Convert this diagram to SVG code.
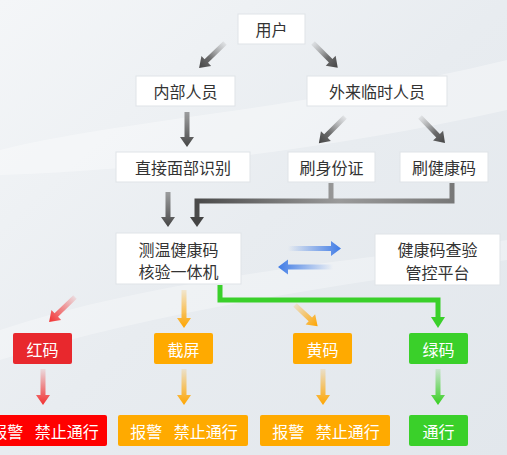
<svg xmlns="http://www.w3.org/2000/svg" width="507" height="455" viewBox="0 0 507 455">
<defs>
<linearGradient id="bg" x1="0" y1="0" x2="1" y2="1">
<stop offset="0" stop-color="#f4f6f8"/><stop offset="0.5" stop-color="#e8ecf0"/><stop offset="1" stop-color="#e2e7ec"/>
</linearGradient>
<linearGradient id="gDark" x1="0" y1="0" x2="0" y2="1">
<stop offset="0" stop-color="#8a8a8a" stop-opacity="0.15"/><stop offset="0.6" stop-color="#555" stop-opacity="0.85"/><stop offset="1" stop-color="#444"/>
</linearGradient>
<linearGradient id="gDark2" x1="0" y1="0" x2="0" y2="1">
<stop offset="0" stop-color="#666" stop-opacity="0.6"/><stop offset="1" stop-color="#444"/>
</linearGradient>
<linearGradient id="gRed" x1="0" y1="0" x2="0" y2="1">
<stop offset="0" stop-color="#f23030" stop-opacity="0.1"/><stop offset="1" stop-color="#f23030"/>
</linearGradient>
<linearGradient id="gOr" x1="0" y1="0" x2="0" y2="1">
<stop offset="0" stop-color="#ffa500" stop-opacity="0.15"/><stop offset="1" stop-color="#ffa500"/>
</linearGradient>
<linearGradient id="gGr" x1="0" y1="0" x2="0" y2="1">
<stop offset="0" stop-color="#36cf20" stop-opacity="0.15"/><stop offset="1" stop-color="#36cf20"/>
</linearGradient>
<linearGradient id="gBlueR" x1="0" y1="0" x2="1" y2="0">
<stop offset="0" stop-color="#3f7be6" stop-opacity="0"/><stop offset="1" stop-color="#3f7be6"/>
</linearGradient>
<linearGradient id="gBlueL" x1="1" y1="0" x2="0" y2="0">
<stop offset="0" stop-color="#3f7be6" stop-opacity="0"/><stop offset="1" stop-color="#3f7be6"/>
</linearGradient>
<linearGradient id="gElbow" x1="197" y1="0" x2="455" y2="0" gradientUnits="userSpaceOnUse">
<stop offset="0" stop-color="#4a4a4a"/><stop offset="0.55" stop-color="#9a9a9a"/><stop offset="1" stop-color="#777"/>
</linearGradient>
<style>
.box{fill:#fff;stroke:#dfe3e7;stroke-width:1}
.t{font-family:"Noto Sans CJK SC","Noto Sans",sans-serif;font-size:16px;fill:#333;text-anchor:middle;dominant-baseline:central}
.w{fill:#fff}
.ws{word-spacing:8px}
.red{fill:#e8282d}
.red2{fill:#ff0000}
.or{fill:#ffaa00}
.gr{fill:#3ad02a}
</style>
</defs>
<rect width="507" height="455" fill="url(#bg)"/>
<path d="M0,150 C120,120 300,110 507,60 L507,110 C330,150 150,170 0,175 Z" fill="#fff" opacity="0.35"/>
<path d="M0,330 C150,280 350,260 507,240 L507,260 C340,285 160,310 0,360 Z" fill="#fff" opacity="0.3"/>

<g id="connectors">
<g transform="translate(225,43) rotate(46)"><path d="M-2.5,0H2.5V26H7L0,36L-7,26H-2.5Z" fill="url(#gDark)"/></g>
<g transform="translate(313,43) rotate(-45)"><path d="M-2.5,0H2.5V25H7L0,35L-7,25H-2.5Z" fill="url(#gDark)"/></g>
<g transform="translate(187,112)"><path d="M-2.5,0H2.5V25H7L0,35L-7,25H-2.5Z" fill="url(#gDark2)"/></g>
<g transform="translate(345,117) rotate(45)"><path d="M-2.5,0H2.5V27H7L0,37L-7,27H-2.5Z" fill="url(#gDark)"/></g>
<g transform="translate(420,117) rotate(-44)"><path d="M-2.5,0H2.5V26H7L0,36L-7,26H-2.5Z" fill="url(#gDark)"/></g>
<g transform="translate(168,192)"><path d="M-2.5,0H2.5V25H7L0,35L-7,25H-2.5Z" fill="url(#gDark2)"/></g>
<path d="M331,183V201M452,183V201M454.5,201H197V218" fill="none" stroke="url(#gElbow)" stroke-width="5"/>
<path d="M190,217H204L197,227Z" fill="#444"/>
<path d="M288,246H331V241L341,248.5L331,256V251H288Z" fill="url(#gBlueR)"/>
<path d="M333,264.5H288V259.5L278,267L288,274.5V269.5H333Z" fill="url(#gBlueL)"/>
<g transform="translate(75,297) rotate(46)"><path d="M-2.5,0H2.5V26H7L0,36L-7,26H-2.5Z" fill="url(#gRed)"/></g>
<g transform="translate(184,290)"><path d="M-2.5,0H2.5V28H7L0,38L-7,28H-2.5Z" fill="url(#gOr)"/></g>
<g transform="translate(295,305) rotate(-47)"><path d="M-2.5,0H2.5V21H7L0,31L-7,21H-2.5Z" fill="url(#gOr)"/></g>
<path d="M220,285V300H438V318" fill="none" stroke="#3ad02a" stroke-width="5"/>
<path d="M431,317H445L438,328Z" fill="#3ad02a"/>
<g transform="translate(43,369)"><path d="M-2.5,0H2.5V26H7L0,36L-7,26H-2.5Z" fill="url(#gRed)"/></g>
<g transform="translate(184,369)"><path d="M-2.5,0H2.5V26H7L0,36L-7,26H-2.5Z" fill="url(#gOr)"/></g>
<g transform="translate(323,369)"><path d="M-2.5,0H2.5V26H7L0,36L-7,26H-2.5Z" fill="url(#gOr)"/></g>
<g transform="translate(438,369)"><path d="M-2.5,0H2.5V26H7L0,36L-7,26H-2.5Z" fill="url(#gGr)"/></g>
</g>

<g id="n-user"><rect class="box" x="238" y="14" width="67" height="30"/><text class="t" x="271.5" y="29">用户</text></g>
<g id="n-internal"><rect class="box" x="136" y="76" width="99" height="30"/><text class="t" x="185.5" y="91">内部人员</text></g>
<g id="n-external"><rect class="box" x="307" y="76" width="140" height="30"/><text class="t" x="377" y="91">外来临时人员</text></g>
<g id="n-face"><rect class="box" x="116" y="152" width="134" height="30"/><text class="t" x="183" y="167">直接面部识别</text></g>
<g id="n-id"><rect class="box" x="288" y="152" width="87" height="30"/><text class="t" x="331.5" y="167">刷身份证</text></g>
<g id="n-hc"><rect class="box" x="400" y="152" width="88" height="30"/><text class="t" x="444" y="167">刷健康码</text></g>
<g id="n-machine"><rect class="box" x="116" y="233" width="125" height="51"/><text class="t" x="178.5" y="249">测温健康码</text><text class="t" x="178.5" y="271">核验一体机</text></g>
<g id="n-platform"><rect class="box" x="375" y="234" width="125" height="51"/><text class="t" x="437.5" y="249">健康码查验</text><text class="t" x="437.5" y="272">管控平台</text></g>
<g id="n-red"><rect class="red" x="13" y="333" width="59" height="31" rx="2"/><text class="t w" x="42.5" y="348.5">红码</text></g>
<g id="n-screen"><rect class="or" x="154" y="333" width="59" height="31" rx="2"/><text class="t w" x="183.5" y="348.5">截屏</text></g>
<g id="n-yellow"><rect class="or" x="293" y="333" width="59" height="31" rx="2"/><text class="t w" x="322.5" y="348.5">黄码</text></g>
<g id="n-green"><rect class="gr" x="409" y="333" width="59" height="31" rx="2"/><text class="t w" x="438.5" y="348.5">绿码</text></g>
<g id="n-r-out"><rect class="red2" x="-19" y="415" width="126" height="31" rx="2"/><text class="t w ws" x="45" y="430.5">报警 禁止通行</text></g>
<g id="n-s-out"><rect class="or" x="118" y="415" width="130" height="31" rx="2"/><text class="t w ws" x="184" y="430.5">报警 禁止通行</text></g>
<g id="n-y-out"><rect class="or" x="260" y="415" width="130" height="31" rx="2"/><text class="t w ws" x="326" y="430.5">报警 禁止通行</text></g>
<g id="n-g-out"><rect class="gr" x="409" y="415" width="59" height="31" rx="2"/><text class="t w" x="438.5" y="430.5">通行</text></g>
</svg>
